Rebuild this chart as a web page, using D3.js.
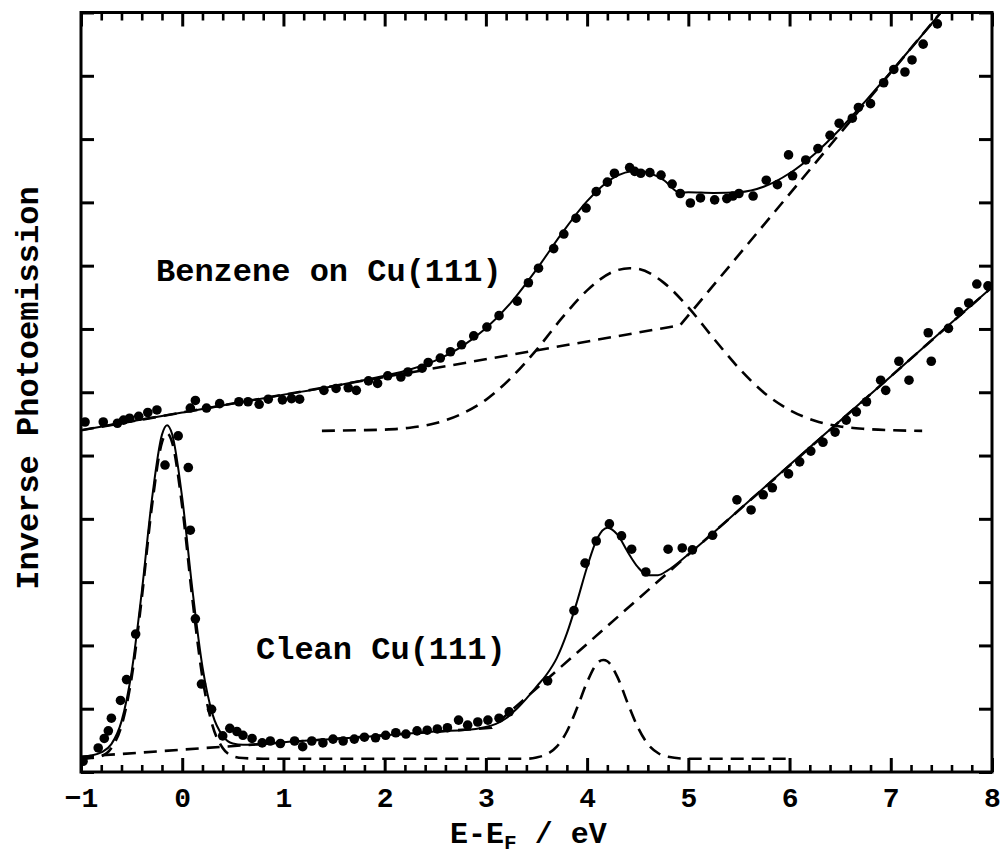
<!DOCTYPE html>
<html>
<head>
<meta charset="utf-8">
<script src="https://cdn.jsdelivr.net/npm/d3@7"></script>
<style>
  html, body { margin: 0; padding: 0; background: #fff; }
  svg { display: block; }
  text { font-family: "Liberation Mono", "Courier New", monospace; font-weight: bold; fill: #000; }
</style>
</head>
<body>
<svg id="chart" width="1004" height="854"></svg>
<script>
// ---------- tick labels ----------
const xMajorTicks = [-1, 0, 1, 2, 3, 4, 5, 6, 7, 8];
const yTicks = [0, 1, 2, 3, 4, 5, 6, 7, 8, 9, 10, 11, 12];

// ---------- Benzene on Cu(111): measured points ----------
const benzeneE = [-0.96,-0.78,-0.64,-0.58,-0.52,-0.43,-0.34,-0.25,0.08,0.13,0.24,0.37,0.56,0.65,0.76,0.85,0.99,1.08,1.16,
  1.40,1.52,1.64,1.72,1.84,1.93,2.03,2.16,2.23,2.37,2.43,2.55,2.65,2.76,2.88,3.01,3.13,3.31,3.42,3.52,
  3.67,3.77,3.89,3.99,4.09,4.20,4.27,4.42,4.47,4.53,4.62,4.73,4.84,4.92,5.02,5.12,5.26,5.38,5.44,5.50,
  5.64,5.77,5.88,5.99,6.03,6.16,6.28,6.40,6.49,6.62,6.68,6.80,6.93,7.03,7.14,7.21,7.32,7.46];
const benzeneI = [5.53,5.53,5.51,5.56,5.59,5.62,5.68,5.72,5.75,5.87,5.75,5.82,5.85,5.85,5.81,5.89,5.88,5.90,5.89,
  6.03,6.06,6.07,6.03,6.18,6.14,6.26,6.24,6.32,6.38,6.47,6.54,6.64,6.75,6.89,7.03,7.21,7.44,7.73,7.96,
  8.27,8.50,8.75,8.91,9.17,9.32,9.46,9.55,9.49,9.46,9.47,9.43,9.29,9.14,8.99,9.07,9.04,9.06,9.10,9.14,
  9.10,9.35,9.28,9.75,9.42,9.67,9.85,10.06,10.25,10.33,10.50,10.56,10.89,11.10,11.06,11.25,11.50,11.82];

// Benzene: fit (solid), background (dashed), peak (dashed)
const benzFitE = [-1,0,1,1.5,2,2.25,2.5,2.75,3,3.25,3.5,3.75,4,4.25,4.5,4.75,4.92,5,5.25,5.5,5.75,6,6.25,6.5,6.75,7,7.25,7.5];
const benzFitI = [5.40,5.68,5.96,6.10,6.26,6.36,6.50,6.71,7.01,7.42,7.94,8.51,9.02,9.38,9.50,9.36,9.15,9.16,9.15,9.16,9.25,9.46,9.77,10.16,10.60,11.06,11.53,12.01];
const benzBgE = [-1, 4.92, 7.52];
const benzBgI = [5.40, 7.06, 12.05];
const benzPeakE = [1.38,1.75,2,2.25,2.5,2.75,3,3.25,3.5,3.75,4,4.25,4.42,4.5,4.75,5,5.25,5.5,5.75,6,6.25,6.5,6.75,7,7.31];
const benzPeakI = [5.39,5.40,5.41,5.44,5.51,5.65,5.88,6.23,6.67,7.17,7.61,7.90,7.96,7.95,7.74,7.34,6.85,6.38,5.99,5.72,5.55,5.46,5.42,5.40,5.39];

// ---------- Clean Cu(111): measured points ----------
const cleanE = [-0.98,-0.83,-0.77,-0.73,-0.70,-0.61,-0.55,-0.46,-0.17,-0.04,0.06,0.08,0.13,0.19,0.29,0.40,0.47,0.54,0.60,0.69,0.79,0.87,0.97,1.11,
  1.19,1.28,1.39,1.49,1.59,1.70,1.80,1.91,2.01,2.11,2.21,2.32,2.42,2.52,2.62,2.73,2.82,2.92,3.02,3.13,3.23,
  3.61,3.87,3.98,4.09,4.22,4.34,4.44,4.58,4.80,4.94,5.04,5.24,5.48,5.62,5.74,5.83,5.99,6.10,6.21,6.33,6.45,6.56,6.66,6.76,
  6.90,6.95,7.08,7.18,7.37,7.40,7.57,7.67,7.77,7.85,7.96];
const cleanI = [0.17,0.38,0.53,0.65,0.85,1.13,1.46,2.18,4.85,5.31,4.81,3.82,2.42,1.39,0.99,0.57,0.69,0.64,0.58,0.53,0.46,0.49,0.45,0.49,
  0.40,0.49,0.46,0.52,0.49,0.52,0.55,0.54,0.58,0.62,0.60,0.65,0.66,0.68,0.70,0.82,0.74,0.79,0.82,0.85,0.95,
  1.44,2.55,3.30,3.65,3.92,3.73,3.52,3.16,3.52,3.54,3.51,3.74,4.30,4.14,4.38,4.49,4.71,4.90,5.07,5.21,5.37,5.56,5.69,5.85,
  6.19,6.03,6.49,6.19,6.94,6.49,7.01,7.27,7.41,7.71,7.68];

// Clean: fit (solid), background (dashed), peaks (dashed)
const cleanFitE = [-1,-0.9,-0.8,-0.7,-0.6,-0.5,-0.4,-0.3,-0.2,-0.15,-0.1,0,0.1,0.2,0.3,0.4,0.5,0.6,0.8,1,1.5,2,2.5,2.9,3.0,3.1,3.2,3.3,3.4,3.5,3.6,3.7,3.8,3.9,4.0,4.1,4.2,4.3,4.4,4.5,4.6,4.7,4.8,5,5.5,6,6.5,7,7.5,8];
const cleanFitI = [0.24,0.26,0.31,0.44,0.80,1.58,2.84,4.30,5.33,5.48,5.34,4.33,2.89,1.66,0.91,0.57,0.45,0.43,0.44,0.47,0.52,0.58,0.64,0.68,0.71,0.76,0.85,0.99,1.16,1.35,1.54,1.80,2.19,2.69,3.24,3.69,3.86,3.75,3.48,3.24,3.11,3.11,3.19,3.44,4.14,4.85,5.55,6.25,6.96,7.66];
const cleanBgE = [-1, 3.06, 8];
const cleanBgI = [0.24, 0.70, 7.66];
const cleanPeakE = [-1,-0.9,-0.8,-0.7,-0.6,-0.5,-0.4,-0.3,-0.2,-0.15,-0.1,0,0.1,0.2,0.3,0.4,0.5,0.6,0.8,3.4,3.5,3.6,3.7,3.8,3.9,4.0,4.1,4.16,4.2,4.3,4.4,4.5,4.6,4.7,4.8,5.0,6.0];
const cleanPeakI = [0.21,0.22,0.25,0.38,0.73,1.49,2.74,4.19,5.21,5.35,5.21,4.19,2.74,1.49,0.73,0.38,0.25,0.22,0.21,0.21,0.23,0.28,0.40,0.64,1.01,1.42,1.72,1.77,1.75,1.50,1.09,0.71,0.44,0.30,0.24,0.21,0.21];

// ---------- drawing ----------
const svg = d3.select("#chart");
const L = 81, R = 992, T = 12.5, B = 772;
const x = d3.scaleLinear().domain([-1, 8]).range([L, R]);
const y = d3.scaleLinear().domain([0, 12]).range([B, T]);

const zip = (a, b) => a.map((v, i) => [v, b[i]]);

svg.append("defs").append("clipPath").attr("id", "plotclip")
  .append("rect").attr("x", L).attr("y", T).attr("width", R - L).attr("height", B - T);

const plot = svg.append("g").attr("clip-path", "url(#plotclip)");

const smooth = d3.line().x(d => x(d[0])).y(d => y(d[1])).curve(d3.curveMonotoneX);
const straight = d3.line().x(d => x(d[0])).y(d => y(d[1]));

const dashed = "13,8";
function path(data, gen, dash, w) {
  plot.append("path").datum(data).attr("d", gen)
    .attr("fill", "none").attr("stroke", "#000").attr("stroke-width", w)
    .attr("stroke-dasharray", dash || null).attr("stroke-linejoin", "round");
}
// dashed components
path(zip(benzBgE, benzBgI), straight, dashed, 2.6);
path(zip(benzPeakE, benzPeakI), smooth, dashed, 2.6);
path(zip(cleanBgE, cleanBgI), straight, dashed, 2.6);
path(zip(cleanPeakE, cleanPeakI), smooth, dashed, 2.6);
// solid fits
path(zip(benzFitE, benzFitI), smooth, null, 2);
path(zip(cleanFitE, cleanFitI), smooth, null, 2);

// data points
plot.selectAll("circle.b").data(zip(benzeneE, benzeneI)).enter().append("circle")
  .attr("cx", d => x(d[0])).attr("cy", d => y(d[1])).attr("r", 4.8).attr("fill", "#000");
plot.selectAll("circle.c").data(zip(cleanE, cleanI)).enter().append("circle")
  .attr("cx", d => x(d[0])).attr("cy", d => y(d[1])).attr("r", 4.8).attr("fill", "#000");

// axes
const xMinorTicks = d3.range(-1, 8.0001, 0.2).map(v => +v.toFixed(1)).filter(v => !xMajorTicks.includes(v));
const fmt = d => d3.format("d")(d);

function styleAxis(g, w) {
  g.select(".domain").remove();
  g.selectAll(".tick line").attr("stroke", "#000").attr("stroke-width", w);
  g.selectAll(".tick text").attr("font-size", 28).attr("font-family", "Liberation Mono, monospace").attr("font-weight", "bold").attr("fill", "#000");
}
svg.append("g").attr("transform", `translate(0,${B})`)
  .call(d3.axisBottom(x).tickValues(xMajorTicks).tickSize(-14).tickPadding(15).tickFormat(fmt))
  .call(g => styleAxis(g, 3));
svg.append("g").attr("transform", `translate(0,${B})`)
  .call(d3.axisBottom(x).tickValues(xMinorTicks).tickSize(-7).tickFormat(""))
  .call(g => styleAxis(g, 2.6));
svg.append("g").attr("transform", `translate(0,${T})`)
  .call(d3.axisTop(x).tickValues(xMajorTicks).tickSize(-14).tickFormat(""))
  .call(g => styleAxis(g, 3));
svg.append("g").attr("transform", `translate(0,${T})`)
  .call(d3.axisTop(x).tickValues(xMinorTicks).tickSize(-8).tickFormat(""))
  .call(g => styleAxis(g, 2.6));
svg.append("g").attr("transform", `translate(${L},0)`)
  .call(d3.axisLeft(y).tickValues(yTicks).tickSize(-13).tickFormat(""))
  .call(g => styleAxis(g, 3));
svg.append("g").attr("transform", `translate(${R},0)`)
  .call(d3.axisRight(y).tickValues(yTicks).tickSize(-13).tickFormat(""))
  .call(g => styleAxis(g, 3));

// frame
svg.append("rect").attr("x", L).attr("y", T).attr("width", R - L).attr("height", B - T)
  .attr("fill", "none").attr("stroke", "#000").attr("stroke-width", 3);

// labels
svg.append("text").attr("x", 156).attr("y", 281).attr("font-size", 32).text("Benzene on Cu(111)");
svg.append("text").attr("x", 256).attr("y", 659).attr("font-size", 32).text("Clean Cu(111)");

const xl = svg.append("text").attr("x", 450).attr("y", 843).attr("font-size", 30);
xl.append("tspan").text("E-E");
xl.append("tspan").attr("font-size", 21).attr("dy", 6).text("F");
xl.append("tspan").attr("dy", -6).text(" / eV");

svg.append("text").attr("transform", "translate(38,388) rotate(-90)")
  .attr("text-anchor", "middle").attr("font-size", 32).text("Inverse Photoemission");
</script>
</body>
</html>
